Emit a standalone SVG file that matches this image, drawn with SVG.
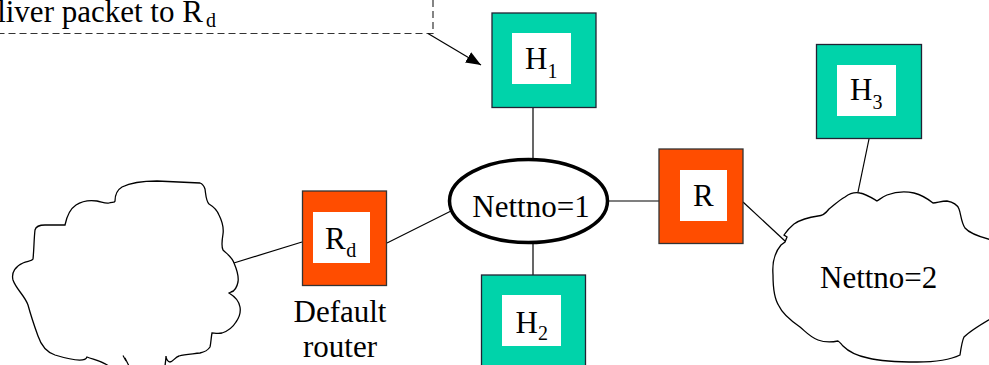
<svg xmlns="http://www.w3.org/2000/svg" width="989" height="365" viewBox="0 0 989 365">
<style>
text{font-family:'Liberation Serif','Times New Roman','DejaVu Serif',serif;font-size:31px;fill:#000}
.sub{font-size:20px}
.line{stroke:#000;stroke-width:1.2;fill:none}
.dash{stroke:#333;stroke-width:1.2;fill:none;stroke-dasharray:7 4}
.host{fill:#00D3AA;stroke:#223;stroke-width:1.3}
.router{fill:#FF4D00;stroke:#333;stroke-width:1.3}
.inner{fill:#fff}
.cloud{fill:#fff;stroke:#000;stroke-width:1.3}
</style>
<defs>
<marker id="arr" markerWidth="16" markerHeight="12" refX="15" refY="6" orient="auto" markerUnits="userSpaceOnUse">
<path d="M0,0 L15,6 L0,12 Z" fill="#000"/>
</marker>
</defs>
<g id="connectors">
<path class="dash" d="M433,0 L433,33.5 L0,33.5"/>
<line class="line" x1="428" y1="33.5" x2="481" y2="65" marker-end="url(#arr)"/>
<line class="line" x1="533" y1="107" x2="533" y2="160"/>
<line class="line" x1="533" y1="242" x2="533" y2="275"/>
<line class="line" x1="607" y1="201" x2="659" y2="201"/>
<line class="line" x1="387" y1="243" x2="451" y2="211"/>
<line class="line" x1="229" y1="264.5" x2="302" y2="242"/>
<line class="line" x1="743" y1="202" x2="785" y2="241"/>
<line class="line" x1="869" y1="139" x2="858" y2="192"/>
</g>
<g id="note" font-family="Liberation Serif, serif">
<text x="-39" y="22">Deliver packet to R<tspan class="sub" dx="3" dy="5">d</tspan></text>
</g>
<g id="net-default">
<path class="cloud" d="M111,368 C104,361 95,360 87,357 C85,363 68,359 55,355 C46,352 41,345 38,336 C34,325 31,316 28,305 C25,296 16,289 13,280 C11,272 16,266 23,263 C28,261 32,261 33,259 C34,250 34,238 35,230 C36,226 40,225 45,225 L65,225 C67,215 70,209 76,205 C82,201 90,200 97,201 C102,202 106,204 109,203 C112,202 115,203 115,201 C115,195 117,190 122,187 C130,183 145,181 157,181 L200,183 C203,184 204,186 205,189 C206,196 206,201 209,204 C214,207 217,210 219,215 C222,221 224,227 223,234 C222,240 221,246 223,250 C227,254 232,257 234,263 C237,270 239,276 238,282 C237,287 235,291 231,292 L229,293 C234,296 239,301 240,307 C241,313 239,318 236,322 C233,327 228,331 222,333 C218,334 214,333 212,333 C211,338 211,343 210,347 C208,350 205,352 200,353 C193,354 185,354 179,356 C175,357 173,362 170,362 C168,362 166,359 166,356 C166,360 165,363 165,368 Z"/>
<path class="line" d="M123,355.5 L126,361 L125,358 L129,366"/>
</g>
<g id="Rd">
<rect class="router" x="302.5" y="191" width="84" height="94.5"/>
<rect class="inner" x="313" y="212" width="57" height="51"/>
<text x="325" y="249.3">R<tspan class="sub" dx="0.5" dy="7.4">d</tspan></text>
<text x="340" y="321.5" text-anchor="middle">Default</text>
<text x="340" y="357" text-anchor="middle">router</text>
</g>
<g id="net1">
<ellipse cx="528.5" cy="201" rx="79" ry="41.5" fill="#fff" stroke="#000" stroke-width="3.5"/>
<text x="531" y="216.5" text-anchor="middle">Nettno=1</text>
</g>
<g id="H1">
<rect class="host" x="492" y="13" width="104" height="94.5"/>
<rect class="inner" x="512" y="33" width="59" height="51"/>
<text x="525" y="69.3">H<tspan class="sub" dx="0" dy="9">1</tspan></text>
</g>
<g id="H2">
<rect class="host" x="481.5" y="275" width="104" height="100"/>
<rect class="inner" x="502" y="295" width="59" height="51"/>
<text x="515.5" y="332.7">H<tspan class="sub" dx="0" dy="7.3">2</tspan></text>
</g>
<g id="R">
<rect class="router" x="659" y="149" width="84" height="94.5"/>
<rect class="inner" x="680" y="170" width="47" height="51"/>
<text x="693" y="205.7">R</text>
</g>
<g id="H3">
<rect class="host" x="816.5" y="44.5" width="105" height="94"/>
<rect class="inner" x="837" y="65" width="59" height="51"/>
<text x="850" y="100">H<tspan class="sub" dx="0" dy="9.3">3</tspan></text>
</g>
<g id="net2">
<path class="cloud" d="M781,245 C775,252 772,262 773,275 C773,290 775,300 779,306 C782,313 790,320 800,327 C806,332 810,337 818,340 C826,343 833,342 838,341 C840,342 841,344 843,346 C848,351 858,356 868,358 C880,361 900,362 917,362 C935,362 950,360 960,355 C961,348 962,341 964,337 C970,331 980,325 992,318 L995,318 L995,240 L992,240 C980,237 970,234 965,228 C961,222 961,214 959,209 C957,204 953,202 947,201 C941,201 937,203 933,203 C928,199 922,195 914,193 C905,191 895,192 887,195 C882,197 879,200 877,201 C872,198 866,194 860,193 C855,192 849,194 845,197 C838,201 833,206 829,209 C826,213 822,216 818,216 C810,217 800,220 794,224 C789,228 786,232 784,235 L787,237 L785,242 Z"/>
<text x="820" y="288.3">Nettno=2</text>
</g>
</svg>
